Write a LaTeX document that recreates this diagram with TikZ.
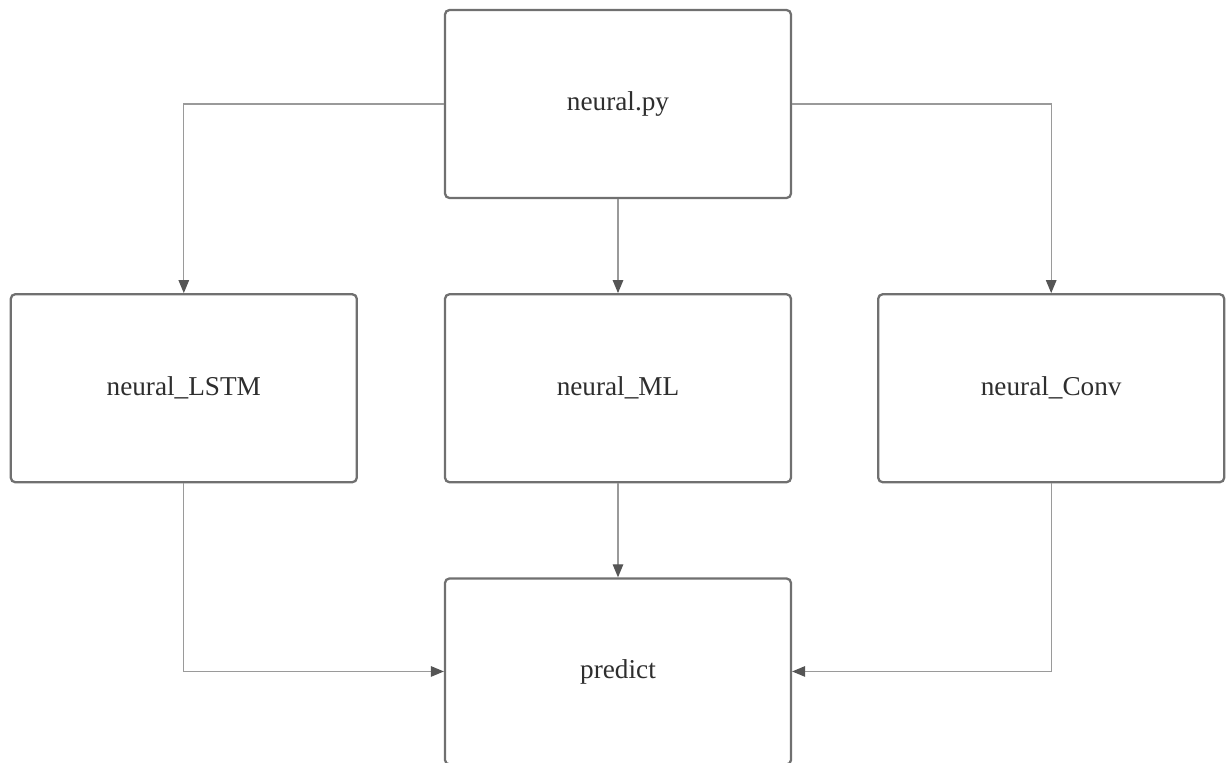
\documentclass[tikz,border=0pt]{standalone}
\usepackage{fontspec}
\setmainfont{Liberation Serif}
\usetikzlibrary{positioning,arrows.meta}
\definecolor{boxline}{HTML}{707070}
\definecolor{connline}{HTML}{9A9A9A}
\definecolor{tipgrey}{HTML}{555555}
\definecolor{textgrey}{HTML}{2E2E2E}
\begin{document}
\begin{tikzpicture}[x=0.02cm, y=-0.02cm,
  module/.style={draw=boxline, line width=1.3pt, rounded corners=2.5pt, fill=white,
    minimum width=6.92cm, minimum height=3.76cm, text=textgrey,
    font=\fontsize{15.5}{19}\selectfont},
  conn/.style={draw=connline, line width=0.7pt,
    -{Triangle[length=2.6mm, width=2.1mm, color=tipgrey]}}]
\useasboundingbox (0,0) rectangle (1228,762);
% modules
\node[module] (py) at (618,104) {neural.py};
\node[module, below=1.88cm of py] (ml) {neural\_ML};
\node[module, left=1.72cm of ml] (lstm) {neural\_LSTM};
\node[module, right=1.70cm of ml] (conv) {neural\_Conv};
\node[module, below=1.88cm of ml, minimum height=3.72cm] (predict) {predict};
% connectors
\draw[conn] (py.west) -| (lstm.north);
\draw[conn] (py.east) -| (conv.north);
\draw[conn] (py.south) -- (ml.north);
\draw[conn] (ml.south) -- (predict.north);
\draw[conn] (lstm.south) |- (predict.west);
\draw[conn] (conv.south) |- (predict.east);
\end{tikzpicture}
\end{document}
